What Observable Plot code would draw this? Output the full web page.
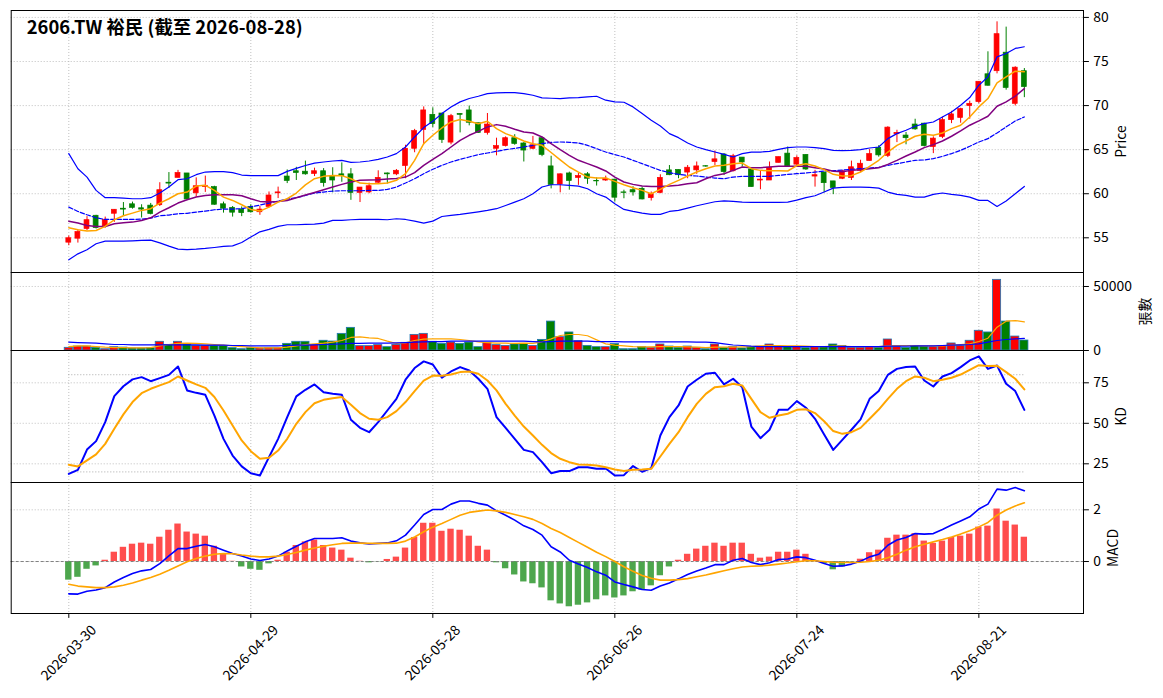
<!DOCTYPE html>
<html><head><meta charset="utf-8">
<script src="https://cdn.jsdelivr.net/npm/d3@7"></script>
<script src="https://cdn.jsdelivr.net/npm/@observablehq/plot@0.6"></script>
<style>
html,body{margin:0;padding:0;background:#fff;}
#wrap{position:relative;width:1163px;height:698px;overflow:hidden;background:#fff;}
#wrap svg{position:absolute;left:0;}
</style></head><body><div id="wrap"></div>
<script>
const title = "2606.TW 裕民 (截至 2026-08-28)";
const dates = ["2026-03-30","2026-03-31","2026-04-01","2026-04-02","2026-04-07","2026-04-08","2026-04-09","2026-04-10","2026-04-13","2026-04-14","2026-04-15","2026-04-16","2026-04-17","2026-04-20","2026-04-21","2026-04-22","2026-04-23","2026-04-24","2026-04-27","2026-04-28","2026-04-29","2026-04-30","2026-05-04","2026-05-05","2026-05-06","2026-05-07","2026-05-08","2026-05-11","2026-05-12","2026-05-13","2026-05-14","2026-05-15","2026-05-18","2026-05-19","2026-05-20","2026-05-21","2026-05-22","2026-05-25","2026-05-26","2026-05-27","2026-05-28","2026-05-29","2026-06-01","2026-06-02","2026-06-03","2026-06-04","2026-06-05","2026-06-08","2026-06-09","2026-06-10","2026-06-11","2026-06-12","2026-06-15","2026-06-16","2026-06-17","2026-06-18","2026-06-22","2026-06-23","2026-06-24","2026-06-25","2026-06-26","2026-06-29","2026-06-30","2026-07-01","2026-07-02","2026-07-03","2026-07-06","2026-07-07","2026-07-08","2026-07-09","2026-07-10","2026-07-13","2026-07-14","2026-07-15","2026-07-16","2026-07-17","2026-07-20","2026-07-21","2026-07-22","2026-07-23","2026-07-24","2026-07-27","2026-07-28","2026-07-29","2026-07-30","2026-07-31","2026-08-03","2026-08-04","2026-08-05","2026-08-06","2026-08-07","2026-08-10","2026-08-11","2026-08-12","2026-08-13","2026-08-14","2026-08-17","2026-08-18","2026-08-19","2026-08-20","2026-08-21","2026-08-24","2026-08-25","2026-08-26","2026-08-27","2026-08-28"];
const tickDates = ["2026-03-30","2026-04-29","2026-05-28","2026-06-26","2026-07-24","2026-08-21"];

const open = [54.45,54.9,56.0,57.5,56.3,57.73,58.3,58.8,58.35,58.65,
 58.7,61.25,61.8,62.3,60.05,60.75,60.75,58.8,58.4,58.2,
 58.5,57.9,58.5,60.05,61.95,62.55,62.5,62.25,62.55,62.0,
 62.2,62.2,60.1,60.15,61.25,62.3,62.2,63.15,65.1,67.25,
 68.95,69.1,65.8,69.05,69.45,68.0,66.9,65.1,65.4,66.3,
 65.7,65.1,66.3,63.1,61.05,62.3,61.8,62.2,61.45,61.5,
 61.6,60.15,60.4,60.55,59.5,60.1,62.65,62.7,62.4,62.65,
 63.12,63.6,64.45,62.55,64.1,62.75,61.5,61.5,63.5,64.55,
 63.3,64.4,61.95,62.4,61.4,61.7,61.8,62.6,63.7,65.2,
 64.3,66.75,66.6,67.85,67.95,65.3,66.45,68.35,68.6,69.95,
 70.4,73.55,73.9,76.0,70.2,73.9];
const high = [55.2,55.9,57.4,57.55,57.35,58.2,59.0,59.05,58.75,58.9,
 61.25,62.4,62.65,62.3,61.8,62.0,60.85,59.05,58.55,58.5,
 58.75,58.55,60.2,60.75,62.7,63.0,63.7,62.9,62.85,62.95,
 63.5,62.85,60.7,61.2,62.6,62.35,62.75,65.5,67.3,69.85,
 69.75,69.1,69.0,69.1,69.95,68.0,69.1,66.3,66.45,66.7,
 65.8,66.5,66.4,64.25,62.25,62.45,62.3,62.4,61.8,62.0,
 61.6,60.4,60.8,60.75,60.2,62.15,63.2,62.7,63.2,63.6,
 63.2,64.85,64.55,64.47,64.1,62.75,62.55,63.6,64.15,65.3,
 64.3,64.45,62.65,62.45,61.4,62.6,63.7,63.8,65.0,65.45,
 67.6,67.2,66.95,68.45,68.0,66.45,68.7,69.35,69.7,70.5,
 72.7,76.1,79.5,78.9,74.4,74.2];
const low = [54.1,54.4,55.8,56.0,56.1,56.75,57.5,58.25,57.25,57.6,
 58.55,60.6,61.8,59.3,59.6,60.15,58.7,57.8,57.35,57.4,
 57.8,57.55,58.4,59.45,61.15,61.5,62.1,61.95,60.75,60.1,
 61.3,59.25,59.0,60.0,61.05,61.1,62.05,61.7,64.65,65.55,
 67.5,65.7,65.55,66.9,67.7,66.85,66.65,64.3,65.3,65.5,
 63.6,65.0,64.2,60.55,60.1,60.4,60.95,61.06,60.87,61.4,
 59.05,59.43,59.73,59.3,59.17,60.0,62.05,61.7,61.7,62.2,
 63.0,63.2,62.08,62.46,63.03,60.75,60.45,61.5,63.5,63.1,
 63.0,62.65,60.75,60.1,59.9,61.6,61.5,62.4,63.7,64.15,
 64.1,65.8,65.55,67.2,65.3,64.55,66.25,67.95,68.0,68.45,
 70.2,72.2,73.6,71.75,69.96,70.9];
const close = [54.95,55.65,57.0,56.1,57.05,58.18,58.2,58.4,58.2,57.7,
 60.4,61.15,62.35,59.35,60.85,60.9,58.75,58.3,57.85,57.8,
 57.9,58.2,59.8,60.15,61.45,62.35,62.2,62.55,61.2,61.5,
 62.0,60.1,60.7,60.85,61.8,62.2,62.6,65.1,67.1,69.45,
 67.9,66.1,68.8,68.95,68.05,66.9,67.85,65.4,66.3,65.65,
 64.9,65.5,64.4,61.0,62.2,61.45,62.0,61.7,61.4,61.7,
 59.55,60.1,60.15,59.35,59.95,61.8,62.1,62.1,62.95,63.1,
 63.08,63.9,62.45,64.25,63.55,60.75,61.6,62.95,64.15,63.1,
 64.05,62.75,62.1,61.2,60.65,62.55,63.0,63.4,64.5,64.35,
 67.5,66.9,66.3,67.3,65.4,66.25,68.35,69.0,69.6,70.2,
 72.7,72.25,78.1,72.0,74.3,72.1];
const ma5 = [56.14,55.91,55.76,55.83,56.29,57.05,57.5,57.8,58.11,58.3,
 58.94,59.43,60.0,60.19,60.87,60.95,60.38,59.62,59.24,58.75,
 58.22,58.03,58.48,59.05,59.43,60.08,61.0,61.7,61.97,62.08,
 62.05,61.7,61.21,61.14,61.14,61.21,61.52,62.27,63.79,65.68,
 66.63,67.46,68.14,68.41,68.22,67.95,68.22,67.39,66.82,66.44,
 65.98,65.68,65.49,64.68,63.85,63.03,62.46,61.89,61.78,61.78,
 61.4,61.02,60.68,60.38,60.0,60.49,61.06,61.52,62.01,62.46,
 62.84,63.14,63.22,63.41,63.48,62.84,62.65,62.61,62.61,62.58,
 63.2,63.41,63.14,62.73,62.2,62.01,62.05,62.46,63.11,63.79,
 64.73,65.49,65.98,66.52,66.74,66.63,66.89,67.39,67.77,68.71,
 69.85,70.8,72.58,73.26,73.9,73.83];
const ma10 = [56.89,56.67,56.4,56.29,56.29,56.59,56.7,56.78,56.97,57.27,
 57.92,58.41,58.94,59.32,59.62,59.81,59.89,59.89,59.89,59.77,
 59.43,59.13,59.05,59.13,59.24,59.55,59.85,60.15,60.45,60.76,
 61.06,61.33,61.52,61.55,61.59,61.67,61.74,61.89,62.39,63.22,
 63.9,64.55,65.3,66.06,66.63,67.08,67.58,67.84,67.65,67.31,
 67.01,66.89,66.44,65.68,65.0,64.36,63.79,63.41,63.03,62.58,
 61.89,61.33,61.06,60.87,60.83,60.83,60.87,60.95,61.14,61.25,
 61.7,62.08,62.27,62.65,63.03,62.95,62.95,63.03,63.11,63.11,
 63.11,63.11,62.95,62.8,62.54,62.5,62.65,62.73,62.84,62.95,
 63.33,63.79,64.28,64.73,65.23,65.57,65.98,66.52,67.12,67.77,
 68.26,68.79,69.92,70.42,71.06,71.93];
const bbMid = [58.48,57.99,57.61,57.27,57.08,57.08,57.08,57.08,57.12,57.23,
 57.5,57.58,57.73,57.77,57.92,58.03,58.18,58.26,58.26,58.3,
 58.52,58.71,58.94,59.17,59.39,59.55,59.8,60.08,60.19,60.3,
 60.34,60.34,60.34,60.38,60.38,60.49,60.76,61.21,61.7,62.27,
 62.77,63.22,63.6,63.9,64.17,64.43,64.62,64.81,65.0,65.15,
 65.3,65.49,65.68,65.83,65.87,65.83,65.76,65.49,65.11,64.73,
 64.43,64.17,63.79,63.41,63.03,62.65,62.39,62.2,62.08,62.01,
 61.89,61.78,61.7,61.89,61.97,61.97,61.97,61.97,62.08,62.2,
 62.27,62.35,62.46,62.58,62.61,62.69,62.77,62.84,62.92,62.99,
 63.22,63.41,63.6,63.79,63.83,63.98,64.24,64.55,64.92,65.38,
 65.87,66.25,66.89,67.58,68.26,68.71];
const bbUp = [64.55,62.84,61.89,60.38,59.55,59.55,59.5,59.43,59.43,59.55,
 60.08,60.76,61.59,61.7,62.16,62.46,62.5,62.5,62.39,62.12,
 62.05,62.05,62.05,62.05,62.54,62.88,63.2,63.48,63.6,63.71,
 63.79,63.56,63.6,63.71,63.9,64.17,64.55,65.3,66.44,67.5,
 68.22,69.09,69.85,70.42,70.8,71.06,71.36,71.44,71.48,71.48,
 71.36,71.17,70.87,70.83,70.8,70.87,70.91,70.98,71.06,70.61,
 70.42,70.38,69.85,69.09,68.33,67.69,66.82,66.36,65.76,65.3,
 65.0,64.73,64.47,64.17,64.55,64.73,64.73,64.81,65.04,65.23,
 65.3,65.3,65.23,65.11,64.92,64.89,64.92,65.0,65.19,65.3,
 66.25,66.82,67.2,67.65,67.95,68.14,68.71,69.28,70.04,70.91,
 72.31,73.26,75.53,75.91,76.48,76.67];
const bbLow = [52.5,53.18,53.64,54.32,54.62,54.62,54.62,54.66,54.7,54.73,
 54.43,54.05,53.71,53.67,53.71,53.79,53.9,54.02,54.09,54.47,
 55.08,55.68,55.95,56.29,56.48,56.48,56.52,56.55,56.67,56.97,
 56.97,57.05,57.08,57.08,57.08,57.05,57.16,57.08,56.89,56.67,
 56.89,57.42,57.54,57.65,57.8,57.95,58.11,58.3,58.67,59.05,
 59.43,60.0,60.76,61.02,61.02,60.95,60.87,60.57,60.0,59.62,
 58.86,58.22,57.99,57.8,57.65,57.65,57.99,58.11,58.37,58.64,
 58.86,59.09,59.2,59.13,59.05,59.02,59.02,59.02,59.02,59.05,
 59.27,59.55,59.77,60.19,60.64,60.72,60.76,60.76,60.72,60.64,
 60.19,59.92,59.81,59.62,59.62,59.92,60.08,59.92,59.81,59.62,
 59.24,59.24,58.56,59.17,60.0,60.83];
const volume = [2100,3100,3100,2100,1000,2600,2300,1600,1600,1800,
 6800,4400,6800,4700,3600,3600,3600,3600,1800,1000,
 1800,1600,1800,1800,5200,6800,6800,4200,7600,7000,
 13000,17700,3400,3400,4200,2600,4400,6000,12200,13000,
 6800,5200,6200,5200,6200,2600,5700,4200,3600,4700,
 5200,3600,8300,22600,10400,14100,7300,3600,2600,2600,
 5000,1000,1000,2600,2100,4700,3100,2100,3100,2100,
 1000,4700,2100,2600,1600,2600,2600,4700,2600,2600,
 2600,1800,2600,2600,4700,3600,2100,2100,2600,2100,
 8600,2600,2100,3600,3100,2600,3400,5500,3600,7600,
 15400,14100,55200,22600,10900,7800];
const volMa5 = [3100,3600,3600,3100,2600,2300,2300,2100,2100,2300,
 3600,4700,5500,5700,5500,5200,4700,4200,3600,3100,
 2600,2100,2100,2100,2600,3600,4700,5200,5700,6500,
 7800,10200,10700,9900,9400,7300,5500,6000,7800,8900,
 9100,9100,9100,8600,7800,6800,6200,5700,5700,5500,
 5700,5500,6800,9100,11700,12500,12500,11500,8300,5200,
 4200,3600,3100,2900,2900,3100,3100,3100,2900,2600,
 2300,2600,2600,2600,2900,3100,3600,3900,3900,3600,
 3600,3400,3100,3100,3400,3400,3100,3100,3100,3100,
 3600,3900,3900,3900,3600,3600,3600,4200,4700,5200,
 7000,9600,18200,22900,23400,22400];
const volMa20 = [6500,6200,6000,5700,5200,4700,4700,4400,4400,4400,
 4400,4400,4400,4400,4400,4200,4200,4200,3900,3900,
 3600,3600,3600,3600,3900,4200,4200,4400,4700,4900,
 5200,5500,5500,5700,5700,5700,6000,6200,6500,6800,
 7000,7000,7300,7300,7300,7300,7300,7300,7300,7300,
 7300,7000,6800,7000,7300,7300,7300,7300,7000,7000,
 7000,6800,6800,6800,6800,6800,6800,6800,6800,6500,
 6500,6200,5200,4300,3900,3400,3100,3100,3100,3100,
 3100,3100,3100,3100,3100,3100,3100,3100,3100,3100,
 3400,3400,3400,3600,3600,3600,3900,4200,4400,4700,
 5200,6500,7800,8600,9100,9400];
const kLine = [18.8,21.3,33.8,39.0,50.7,66.8,72.9,77.1,78.5,76.0,
 77.9,79.9,85.1,70.3,68.8,67.6,54.8,40.4,30.1,23.4,
 19.2,17.8,29.1,40.4,53.8,66.6,70.7,74.0,69.2,68.2,
 67.6,52.2,47.2,44.5,50.7,57.9,65.1,76.9,84.1,88.2,
 86.3,78.1,82.0,84.7,82.6,77.5,71.3,53.8,47.2,40.4,
 33.6,32.2,26.0,19.2,20.5,20.5,22.9,22.9,21.9,22.1,
 17.8,18.0,23.6,20.1,22.3,42.5,53.8,61.0,72.7,76.9,
 80.6,81.2,74.0,77.5,72.3,48.0,40.8,46.0,58.3,58.3,
 63.7,59.6,52.8,43.1,33.6,39.8,46.0,52.4,65.1,69.9,
 79.9,83.6,84.7,85.1,76.4,72.7,78.9,81.0,84.7,88.8,
 91.3,83.6,85.7,74.4,69.9,58.3];
const dLine = [24.4,23.4,27.1,30.8,37.3,46.6,55.5,63.1,68.6,71.3,
 73.4,75.4,78.9,76.4,74.0,71.9,66.2,57.9,48.7,39.4,
 32.8,28.1,28.7,33.2,40.4,49.7,56.9,62.4,64.5,65.5,
 66.2,61.4,56.3,52.8,52.2,53.8,57.5,63.1,69.9,76.4,
 79.5,79.3,80.1,81.6,82.0,80.6,76.4,70.3,62.0,54.8,
 48.0,42.5,36.7,31.6,28.1,26.0,24.6,24.4,24.0,22.9,
 21.5,20.5,21.3,21.5,21.9,29.5,37.3,44.5,53.8,62.0,
 68.2,72.3,72.9,74.4,73.4,65.1,56.9,53.4,54.8,55.9,
 58.3,58.7,56.3,51.3,45.2,43.5,44.5,47.2,52.8,58.5,
 65.1,71.3,76.0,78.9,78.1,76.0,76.9,78.1,80.1,83.0,
 85.9,85.3,85.5,81.6,77.5,70.9];
const kdRefs = [20, 80];
const dif = [-1.25,-1.26,-1.15,-1.10,-1.01,-0.79,-0.62,-0.46,-0.36,-0.31,
 -0.08,0.22,0.50,0.50,0.59,0.66,0.57,0.44,0.31,0.21,
 0.10,0.04,0.10,0.21,0.41,0.59,0.76,0.89,0.89,0.89,
 0.92,0.79,0.72,0.68,0.70,0.72,0.80,1.02,1.41,1.82,
 2.01,2.01,2.22,2.34,2.34,2.25,2.18,1.96,1.79,1.60,
 1.38,1.24,1.02,0.57,0.37,0.05,-0.10,-0.23,-0.40,-0.53,
 -0.79,-0.89,-0.98,-1.08,-1.11,-0.95,-0.83,-0.67,-0.50,-0.37,
 -0.25,-0.12,-0.12,0.05,0.12,-0.04,-0.12,-0.05,0.08,0.10,
 0.18,0.15,0.05,-0.08,-0.18,-0.17,-0.10,0.01,0.18,0.28,
 0.63,0.83,0.93,1.08,1.06,1.08,1.24,1.41,1.57,1.73,
 2.03,2.22,2.80,2.76,2.86,2.74];
const dea = [-0.88,-0.95,-0.98,-1.01,-1.01,-0.98,-0.92,-0.83,-0.72,-0.62,
 -0.49,-0.34,-0.17,-0.01,0.12,0.21,0.28,0.31,0.30,0.25,
 0.21,0.18,0.18,0.21,0.27,0.35,0.44,0.52,0.59,0.65,
 0.70,0.71,0.71,0.70,0.70,0.70,0.71,0.79,0.95,1.15,
 1.33,1.47,1.63,1.79,1.90,1.95,1.99,1.96,1.90,1.82,
 1.73,1.63,1.47,1.28,1.12,0.93,0.74,0.55,0.36,0.19,
 0.0,-0.2,-0.38,-0.54,-0.65,-0.72,-0.72,-0.70,-0.66,-0.59,
 -0.52,-0.44,-0.36,-0.28,-0.21,-0.18,-0.17,-0.14,-0.10,-0.06,
 -0.01,0.03,0.03,0.0,-0.03,-0.04,-0.04,-0.03,0.0,0.05,
 0.15,0.28,0.44,0.57,0.67,0.76,0.85,0.95,1.06,1.19,
 1.34,1.51,1.79,1.99,2.15,2.27];
const hist = [-0.72,-0.61,-0.30,-0.17,0.05,0.36,0.55,0.67,0.71,0.67,
 0.94,1.21,1.45,1.14,1.06,0.98,0.59,0.31,0.01,-0.21,
 -0.30,-0.34,-0.09,0.05,0.36,0.62,0.76,0.83,0.62,0.52,
 0.44,0.13,0.01,-0.05,-0.01,0.08,0.17,0.52,0.93,1.48,
 1.48,1.17,1.25,1.21,0.98,0.59,0.44,-0.05,-0.28,-0.52,
 -0.79,-0.86,-1.02,-1.52,-1.64,-1.75,-1.69,-1.60,-1.48,-1.33,
 -1.41,-1.33,-1.17,-1.11,-0.94,-0.55,-0.21,0.05,0.28,0.48,
 0.59,0.71,0.59,0.71,0.71,0.28,0.13,0.17,0.36,0.36,
 0.44,0.28,0.01,-0.08,-0.32,-0.21,-0.02,0.09,0.34,0.44,
 0.90,1.02,1.02,1.08,0.79,0.70,0.79,0.93,0.98,1.06,
 1.33,1.37,2.03,1.56,1.41,0.94];
const priceTicks = [55, 60, 65, 70, 75, 80];
const volTicks = [0, 50000];
const kdTicks = [25, 50, 75];
const macdTicks = [0, 2];

const FONT = "'Noto Sans CJK TC','Noto Sans CJK SC','DejaVu Sans',sans-serif";
const RED = "#ff0000", GREEN = "#008000";
const rows = dates.map((d, i) => ({i, date: d, open: open[i], high: high[i], low: low[i], close: close[i],
  vol: volume[i], ma5: ma5[i], ma10: ma10[i], bbMid: bbMid[i], bbUp: bbUp[i], bbLow: bbLow[i],
  volMa5: volMa5[i], volMa20: volMa20[i], k: kLine[i], d: dLine[i], dif: dif[i], dea: dea[i], hist: hist[i]}));
const up = rows.filter(r => r.close >= r.open);
const dn = rows.filter(r => r.close < r.open);
const hPos = rows.filter(r => r.hist >= 0);
const hNeg = rows.filter(r => r.hist < 0);
const tickIdx = tickDates.map(t => dates.indexOf(t));
const firstIdx = rows[0].i, lastIdx = rows[rows.length - 1].i;
const xDomain = [-6.33, 111.5];
const grid = {stroke: "#b0b0b0", strokeOpacity: 1, strokeWidth: 0.8, strokeDasharray: "1,2"};
const fmtInt = d3.format("d");
const axisOpts = {anchor: "right", tickSize: 4.9, tickPadding: 4.9, label: null, fontSize: 13.9, tickFormat: fmtInt};

function opts(h, mt, mb, yDomain, marks) {
  return {width: 1163, height: h, marginLeft: 10.7, marginRight: 80, marginTop: mt, marginBottom: mb,
    x: {domain: xDomain, axis: null}, y: {domain: yDomain, axis: null},
    style: {background: "transparent", overflow: "visible", fontFamily: FONT, fontSize: "13.9px", color: "#000"},
    marks};
}
function ylabel(t, dx) {
  return Plot.text([t], {frameAnchor: "right", dx, rotate: -90, textAnchor: "middle", lineAnchor: "middle", fontSize: 13.9, fill: "#000"});
}
const bw = 0.27, vw = 0.45, hw = 0.35;

const pricePlot = Plot.plot(opts(272, 10, 0, [51.064, 80.786], [
  Plot.gridX({ticks: tickIdx, ...grid}),
  Plot.gridY({ticks: priceTicks, ...grid}),
  Plot.ruleX(up, {x: "i", y1: "low", y2: "high", stroke: RED, strokeWidth: 1}),
  Plot.ruleX(dn, {x: "i", y1: "low", y2: "high", stroke: GREEN, strokeWidth: 1}),
  Plot.rect(up, {x1: r => r.i - bw, x2: r => r.i + bw, y1: "open", y2: "close", fill: RED, stroke: RED, strokeWidth: 0.7}),
  Plot.rect(dn, {x1: r => r.i - bw, x2: r => r.i + bw, y1: "open", y2: "close", fill: GREEN, stroke: GREEN, strokeWidth: 0.7}),
  Plot.line(rows, {x: "i", y: "bbUp", stroke: "#0000ff", strokeWidth: 1.2}),
  Plot.line(rows, {x: "i", y: "bbLow", stroke: "#0000ff", strokeWidth: 1.2}),
  Plot.line(rows, {x: "i", y: "bbMid", stroke: "#0000ff", strokeWidth: 1.2, strokeDasharray: "4.4,1.9"}),
  Plot.line(rows, {x: "i", y: "ma10", stroke: "#800080", strokeWidth: 1.5}),
  Plot.line(rows, {x: "i", y: "ma5", stroke: "#ffa500", strokeWidth: 1.5}),
  Plot.frame({stroke: "#000", strokeWidth: 1}),
  Plot.axisY({...axisOpts, ticks: priceTicks}),
  ylabel("Price", 38),
  Plot.text([title], {frameAnchor: "top-left", dx: 15.5, dy: 10.5, textAnchor: "start", lineAnchor: "top", fontSize: 18.4, fontWeight: "bold", fill: "#000"})
]));

const volPlot = Plot.plot(opts(78, 0, 0, [0, 60937], [
  Plot.gridX({ticks: tickIdx, ...grid}),
  Plot.gridY({ticks: volTicks, ...grid}),
  Plot.rect(up, {x1: r => r.i - vw, x2: r => r.i + vw, y1: 0, y2: "vol", fill: RED, stroke: "#1f77b4", strokeWidth: 0.8}),
  Plot.rect(dn, {x1: r => r.i - vw, x2: r => r.i + vw, y1: 0, y2: "vol", fill: GREEN, stroke: "#1f77b4", strokeWidth: 0.8}),
  Plot.line(rows, {x: "i", y: "volMa5", stroke: "#ffa500", strokeWidth: 1.2}),
  Plot.line(rows, {x: "i", y: "volMa20", stroke: "#0000ff", strokeWidth: 1.2}),
  Plot.frame({stroke: "#000", strokeWidth: 1}),
  Plot.axisY({...axisOpts, ticks: volTicks}),
  ylabel("張數", 62)
]));

const kdPlot = Plot.plot(opts(132, 0, 0, [13.46, 94.94], [
  Plot.gridX({ticks: tickIdx, ...grid}),
  Plot.gridY({ticks: kdTicks, ...grid}),
  Plot.ruleY(kdRefs, {x1: firstIdx, x2: lastIdx, stroke: "#a0a0a0", strokeWidth: 0.9, strokeDasharray: "1,2"}),
  Plot.line(rows, {x: "i", y: "k", stroke: "#0000ff", strokeWidth: 2}),
  Plot.line(rows, {x: "i", y: "d", stroke: "#ffa500", strokeWidth: 2}),
  Plot.frame({stroke: "#000", strokeWidth: 1}),
  Plot.axisY({...axisOpts, ticks: kdTicks}),
  ylabel("KD", 38)
]));

const macdPlot = Plot.plot(opts(216, 0, 85, [-2.01, 3.056], [
  Plot.gridX({ticks: tickIdx, ...grid}),
  Plot.gridY({ticks: macdTicks, ...grid}),
  Plot.rect(hPos, {x1: r => r.i - hw, x2: r => r.i + hw, y1: 0, y2: "hist", fill: "#ff4d4d"}),
  Plot.rect(hNeg, {x1: r => r.i - hw, x2: r => r.i + hw, y1: 0, y2: "hist", fill: "#4da64d"}),
  Plot.ruleY([0], {stroke: "#808080", strokeWidth: 1, strokeDasharray: "3,2"}),
  Plot.line(rows, {x: "i", y: "dif", stroke: "#0000ff", strokeWidth: 1.6}),
  Plot.line(rows, {x: "i", y: "dea", stroke: "#ffa500", strokeWidth: 1.6}),
  Plot.frame({stroke: "#000", strokeWidth: 1}),
  Plot.axisY({...axisOpts, ticks: macdTicks}),
  Plot.axisX({anchor: "bottom", ticks: tickIdx, tickSize: 4.9, tickFormat: () => "", label: null}),
  Plot.text(tickIdx, {x: d => d, text: d => dates[d], frameAnchor: "bottom", dy: 39.5, rotate: -45, textAnchor: "middle", lineAnchor: "middle", fontSize: 13.9, fill: "#000"}),
  ylabel("MACD", 30)
]));

const wrap = document.getElementById("wrap");
[[pricePlot, 0], [volPlot, 272], [kdPlot, 350], [macdPlot, 482]].forEach(([p, top]) => {
  p.style.top = top + "px";
  wrap.appendChild(p);
});
</script></body></html>
